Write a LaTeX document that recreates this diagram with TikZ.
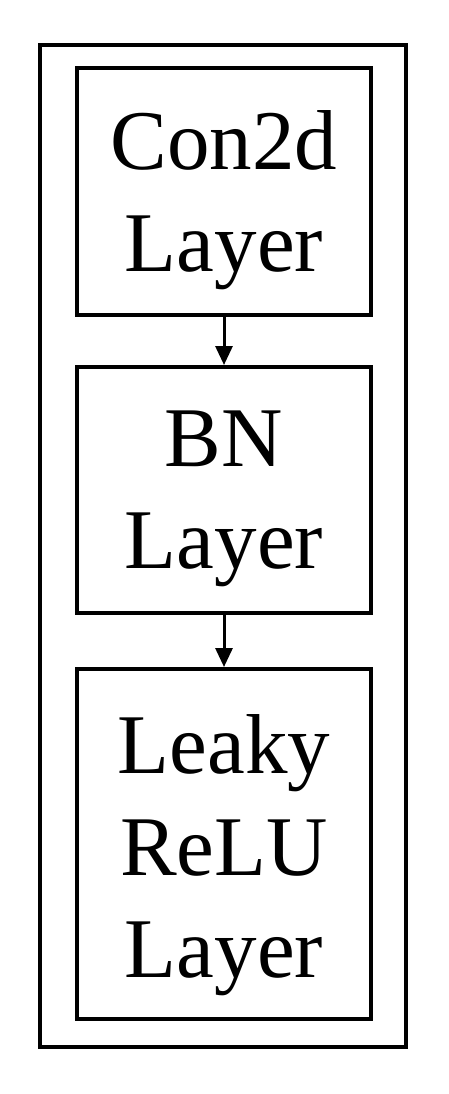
\documentclass[tikz,border=0pt]{standalone}
\usepackage{fontspec}
\setmainfont{Liberation Serif}
\usetikzlibrary{arrows.meta}
\begin{document}
\begin{tikzpicture}[x=1pt,y=-1pt,
  layerbox/.style={draw,line width=4pt,minimum width=294pt,inner sep=0pt},
  layertext/.style={inner sep=0pt,align=center,font=\fontsize{85}{102}\selectfont},
  flow/.style={line width=3pt,-{Triangle[length=19pt,width=17pt]}}]
\useasboundingbox (0,0) rectangle (449,1094);
\node[draw,line width=4pt,minimum width=366pt,minimum height=1002pt,inner sep=0pt] (outer) at (223,546) {};
\node[layerbox,minimum height=247pt] (conv) at (224,191.5) {};
\node[layerbox,minimum height=246pt] (bn) at (224,490) {};
\node[layerbox,minimum height=350pt] (relu) at (224,844) {};
\node[layertext] (convt) at ([yshift=-9pt]conv.center) {Con2d\\Layer};
\node[layertext] (bnt) at ([yshift=-9pt]bn.center) {BN\\Layer};
\node[layertext] (relut) at ([yshift=-11pt]relu.center) {Leaky\\ReLU\\Layer};
\draw[flow] (conv.south) -- (bn.north);
\draw[flow] (bn.south) -- (relu.north);
\end{tikzpicture}
\end{document}
